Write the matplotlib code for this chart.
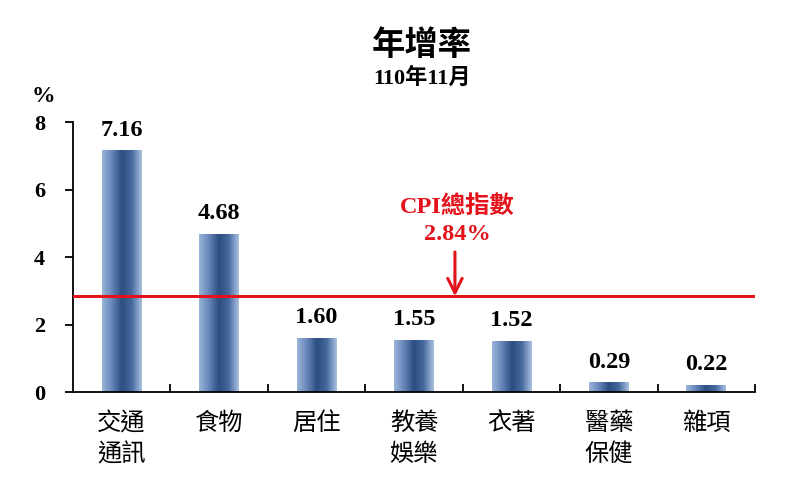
import numpy as np
import matplotlib.pyplot as plt
from matplotlib.colors import LinearSegmentedColormap

categories = ['交通\n通訊', '食物', '居住', '教養\n娛樂', '衣著', '醫藥\n保健', '雜項']
values = [7.16, 4.68, 1.60, 1.55, 1.52, 0.29, 0.22]
cpi_total = 2.84

plt.rcParams['font.family'] = ['Liberation Serif', 'Noto Sans CJK TC']
cjk = ['Noto Sans CJK TC', 'DejaVu Sans']
red = '#e3121b'

fig = plt.figure(figsize=(8, 4.97), dpi=100)
ax = fig.add_axes([0.091, 0.211, 0.853, 0.5435])

x = np.arange(len(categories))
bars = ax.bar(x, values, width=0.41, color='none', zorder=2)

# cylinder-like shading on each bar
cmap = LinearSegmentedColormap.from_list(
    'cyl', ['#9ab4da', '#6585b8', '#2c4d7f', '#466a9f', '#a9c0e0'])
grad = np.linspace(0, 1, 64).reshape(1, -1)
for b in bars:
    x0, y0 = b.get_x(), b.get_y()
    w, h = b.get_width(), b.get_height()
    im = ax.imshow(grad, cmap=cmap, extent=(x0, x0 + w, y0, y0 + h),
                   aspect='auto', zorder=2, interpolation='bicubic')
    im.set_clip_path(b)

for xi, v in zip(x, values):
    ax.annotate(f'{v:.2f}', (xi, v), xytext=(0, 7), textcoords='offset points',
                ha='center', va='bottom', fontsize=17.5, fontweight='bold')

# CPI total line and callout
ax.axhline(cpi_total, color=red, lw=2.2, zorder=3)
ax.annotate('', xy=(3.42, cpi_total), xytext=(3.42, 4.15),
            arrowprops=dict(arrowstyle='->', color=red, lw=2.2, mutation_scale=26,
                            shrinkA=0, shrinkB=0))
ax.text(3.44, 5.5, 'CPI總指數', color=red, ha='center', va='center',
        fontsize=17.5, fontweight='bold')
ax.text(3.44, 4.68, f'{cpi_total:.2f}%', color=red, ha='center', va='center',
        fontsize=17.5, fontweight='bold')

ax.set_xlim(-0.5, len(categories) - 0.5)
ax.set_ylim(0, 8)
ax.set_yticks([0, 2, 4, 6, 8])
ax.tick_params(axis='y', direction='out', length=6, width=1.3, pad=14, labelsize=16)
for t in ax.get_yticklabels():
    t.set_fontweight('bold')

ax.set_xticks(x)
ax.set_xticklabels(categories, family=cjk, fontsize=17.5, linespacing=1.25)
ax.tick_params(axis='x', length=0, pad=13)
ax.set_xticks(np.arange(0.5, len(categories), 1), minor=True)
ax.tick_params(axis='x', which='minor', direction='in', length=6, width=1.3)

for s in ['top', 'right']:
    ax.spines[s].set_visible(False)
for s in ['left', 'bottom']:
    ax.spines[s].set_linewidth(1.3)

fig.text(0.527, 0.909, '年增率', ha='center', va='center', fontsize=24,
         fontweight='bold', family=cjk)
fig.text(0.527, 0.843, '110年11月', ha='center', va='center', fontsize=16,
         fontweight='bold')
fig.text(0.054, 0.805, '%', ha='center', va='center', fontsize=17, fontweight='bold')

fig.savefig('out.png', dpi=100)
